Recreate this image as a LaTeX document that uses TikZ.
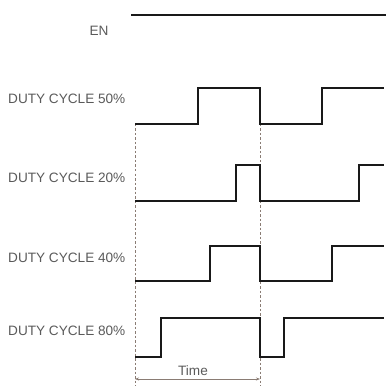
\documentclass[tikz,border=0pt]{standalone}
\usepackage{fontspec}
\setmainfont{Liberation Sans}
\usetikzlibrary{arrows.meta}
\definecolor{labelgrey}{HTML}{5A5A5A}
\definecolor{dashgrey}{HTML}{8A7C74}
\begin{document}
\begin{tikzpicture}[x=1pt,y=-1pt,
  lbl/.style={font=\fontsize{13.6}{16}\selectfont, text=labelgrey, anchor=west, inner sep=0pt},
  wave/.style={line width=2.3pt, line join=miter, black!90},
  guide/.style={dashgrey, line width=0.9pt, dash pattern=on 2.5pt off 2pt},
  timearrow/.style={dashgrey, line width=0.9pt, {Stealth[length=4pt,width=3pt]}-{Stealth[length=4pt,width=3pt]}}]
\useasboundingbox (0,0) rectangle (386,387);
% labels
\node[lbl, anchor=center] (en) at (99,31) {EN};
\node[lbl] (l50) at (8,99) {DUTY CYCLE 50\%};
\node[lbl] (l20) at (8,178) {DUTY CYCLE 20\%};
\node[lbl] (l40) at (8,258) {DUTY CYCLE 40\%};
\node[lbl] (l80) at (8,331) {DUTY CYCLE 80\%};
% guides
\coordinate (g1t) at (135,124);
\coordinate (g1b) at (135,386);
\coordinate (g2t) at (260,124);
\coordinate (g2b) at (260,386);
\draw[guide] (g1t) -- (g1b);
\draw[guide] (g2t) -- (g2b);
% EN
\coordinate (ens) at (131,15);
\coordinate (ene) at (386,15);
\draw[wave] (ens) -- (ene);
% 50%
\draw[wave] (135,124) -- (198,124) -- (198,88) -- (260,88) -- (260,124) -- (322,124) -- (322,88) -- (384,88);
% 20%
\draw[wave] (135,201) -- (236,201) -- (236,165) -- (260,165) -- (260,201) -- (359,201) -- (359,165) -- (384,165);
% 40%
\draw[wave] (135,281) -- (210,281) -- (210,246) -- (260,246) -- (260,281) -- (332,281) -- (332,246) -- (384,246);
% 80%
\draw[wave] (135,357) -- (161,357) -- (161,318) -- (260,318) -- (260,357) -- (284,357) -- (284,318) -- (384,318);
% time
\coordinate (ta) at (135,379);
\coordinate (tb) at (260,379);
\draw[timearrow] (ta) -- (tb);
\node[lbl, anchor=center] (time) at (193,371) {Time};
\end{tikzpicture}
\end{document}
